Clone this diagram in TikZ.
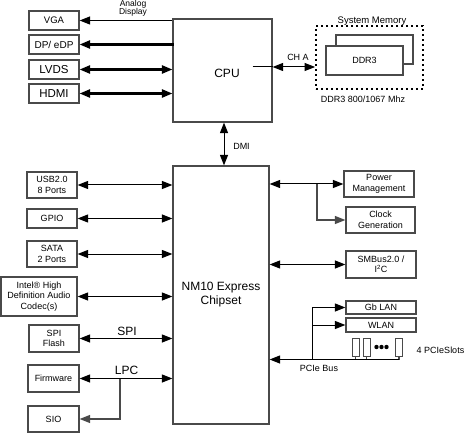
\documentclass[tikz,border=0pt]{standalone}
\usepackage{fontspec}
\setmainfont{Liberation Sans}
\usetikzlibrary{arrows.meta}
\definecolor{boxgray}{HTML}{4A4A4A}
\newcommand\myfs[2]{\fontsize{#1}{#2}\selectfont}
\begin{document}
\begin{tikzpicture}[x=1pt,y=-1pt,
  >={Triangle[length=10.5pt,width=8pt]},
  box/.style={draw=boxgray, line width=1.2pt, fill=white, inner sep=0pt, align=center, font=\myfs{9}{10.5}},
  lbl/.style={inner sep=0pt, align=center, font=\myfs{9}{9}},
  biglbl/.style={inner sep=0pt, align=center, font=\myfs{12}{14}},
  conn/.style={line width=1pt, black},
  thickconn/.style={line width=2.3pt, black},
  branch/.style={line width=1.2pt, draw=boxgray},
  slot/.style={draw=boxgray, line width=1pt, fill=white, minimum width=7pt, minimum height=18pt, inner sep=0pt},
  memdots/.style={draw=black, line width=1.8pt, dash pattern=on 1.8pt off 3.2pt, inner sep=0pt}
]
\fill[white] (0,0) rectangle (466,433);
\useasboundingbox (0,0) rectangle (466,433);

% central boxes
\node[box, minimum width=99pt, minimum height=103pt] (cpu) at (222.5,70.5) {};
\node[biglbl] (cputxt) at (227,73) {CPU};
\node[box, minimum width=96pt, minimum height=258pt, font=\myfs{12}{14}] (chip) at (221,295) {NM10 Express\\Chipset};

% display outputs
\node[box, minimum width=50pt, minimum height=19pt, font=\myfs{9.5}{11}] (vga) at (54,20.5) {VGA};
\node[box, minimum width=50pt, minimum height=19pt, font=\myfs{10}{11}] (dp) at (54,44.5) {DP/ eDP};
\node[box, minimum width=50pt, minimum height=19pt, font=\myfs{11.5}{13}] (lvds) at (54,69.5) {LVDS};
\node[box, minimum width=50pt, minimum height=19pt, font=\myfs{11.5}{13}] (hdmi) at (54,93.5) {HDMI};

\node[lbl, font=\myfs{8.5}{8}] (analog) at (133,8) {Analog\\Display};

\draw[conn, <-] (vga.east) -- (vga.east -| cpu.west);
\draw[thickconn, <-] (dp.east) -- ([xshift=2pt]dp.east -| cpu.west);
\draw[thickconn, <->] (lvds.east) -- (lvds.east -| cpu.west);
\draw[thickconn, <->] (hdmi.east) -- (hdmi.east -| cpu.west);

% memory
\node[memdots, minimum width=107pt, minimum height=63pt] (mem) at (369.5,57.5) {};
\node[box, minimum width=77pt, minimum height=29pt] (ddrback) at (374.5,49.5) {};
\node[box, minimum width=77pt, minimum height=29pt] (ddr) at (364.5,60.5) {DDR3};
\node[lbl, font=\myfs{9.5}{10}] (sysmem) at (372,21) {System Memory};
\node[lbl] (ddrspeed) at (363,99) {DDR3 800/1067 Mhz};
\node[lbl] (cha) at (298,57) {CH A};
\draw[conn, <->] ([yshift=-9.5pt]mem.west -| cpu.east) -- ([yshift=-9.5pt]mem.west);
\draw[conn] ([yshift=-9.5pt,xshift=-20pt]mem.west -| cpu.east) -- ([yshift=-9.5pt]mem.west -| cpu.east);

% DMI
\draw[conn, <->] ([xshift=1.5pt]cpu.south) -- ([xshift=1.5pt]cpu.south |- chip.north);
\node[lbl] (dmi) at (241.5,146) {DMI};

% left I/O
\node[box, minimum width=50pt, minimum height=26pt] (usb) at (52,185) {USB2.0\\8 Ports};
\node[box, minimum width=50pt, minimum height=19pt] (gpio) at (52,218.5) {GPIO};
\node[box, minimum width=50pt, minimum height=26pt] (sata) at (52,254) {SATA\\2 Ports};
\node[box, minimum width=76pt, minimum height=39pt] (audio) at (39,296.5) {Intel® High\\Definition Audio\\Codec(s)};
\node[box, minimum width=50pt, minimum height=27pt] (spi) at (54,338.5) {SPI\\Flash};
\node[box, minimum width=51pt, minimum height=27pt] (fw) at (53.5,378.5) {Firmware};
\node[box, minimum width=51pt, minimum height=26pt] (sio) at (53.5,419) {SIO};

\draw[conn, <->] (usb.east) -- (usb.east -| chip.west);
\draw[conn, <->] (gpio.east) -- (gpio.east -| chip.west);
\draw[conn, <->] (sata.east) -- (sata.east -| chip.west);
\draw[conn, <->] (audio.east) -- (audio.east -| chip.west);
\draw[conn, <->] (spi.east) -- (spi.east -| chip.west);
\draw[conn, <->] (fw.east) -- (fw.east -| chip.west);
\coordinate (lpcj) at (120,378.5);
\draw[branch, ->] (lpcj) |- (sio.east);
\node[biglbl] (spilbl) at (127,331) {SPI};
\node[biglbl] (lpclbl) at (126.5,370) {LPC};

% right side
\node[box, minimum width=70pt, minimum height=26pt] (power) at (379,184) {Power\\Management};
\node[box, minimum width=69pt, minimum height=26pt] (clock) at (380.5,220) {Clock\\Generation};
\node[box, minimum width=70pt, minimum height=27pt] (smbus) at (381,264.5) {SMBus2.0 /\\I\textsuperscript{2}C};
\node[box, minimum width=70pt, minimum height=13pt] (gblan) at (381,307.5) {Gb LAN};
\node[box, minimum width=70pt, minimum height=14pt] (wlan) at (381,325) {WLAN};

\draw[conn, <->] (chip.east |- power.west) -- (power.west);
\coordinate (pj) at (317,184);
\draw[branch, ->] (pj) |- (clock.west);
\draw[conn, <->] (chip.east |- smbus.west) -- (smbus.west);

% PCIe
\node[slot] (s1) at (355.5,347) {};
\node[slot] (s2) at (366.5,347) {};
\node[slot] (s3) at (399,347) {};
\fill (376.5,347) circle (2.2);
\fill (381.5,347) circle (2.2);
\fill (386.5,347) circle (2.2);
\coordinate (busR) at (399,359.5);
\coordinate (busJ) at (312,359.5);
\draw[branch] (s1.south) -- (s1.south |- busR);
\draw[branch] (s2.south) -- (s2.south |- busR);
\draw[branch] (s3.south) -- (busR);
\draw[conn, ->] (busR) -- (busR -| chip.east);
\draw[conn, ->] (busJ) |- (gblan.west);
\draw[conn, ->] (busJ |- wlan.west) -- (wlan.west);
\node[lbl] (pcielbl) at (319,368) {PCIe Bus};
\node[lbl] (slotslbl) at (440.5,350) {4 PCIeSlots};
\end{tikzpicture}
\end{document}
